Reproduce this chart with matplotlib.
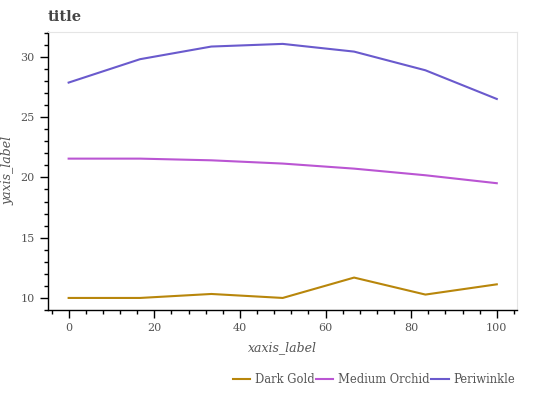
import numpy as np
import matplotlib
matplotlib.use("Agg")
import matplotlib.pyplot as plt
from matplotlib.ticker import MultipleLocator

# Data
x = [0, 16.67, 33.33, 50, 66.67, 83.33, 100]
dark_gold = [10.0, 10.0, 10.33, 10.0, 11.69, 10.28, 11.13]
medium_orchid = [21.56, 21.56, 21.42, 21.15, 20.73, 20.18, 19.52]
periwinkle = [27.87, 29.81, 30.86, 31.08, 30.44, 28.89, 26.51]

names = ["Dark Gold", "Medium Orchid", "Periwinkle"]
colors = ["#B8860B", "#BA55D3", "#6A5ACD"]

plt.rcParams['font.family'] = ['DejaVu Serif']

fig = plt.figure(figsize=(5.44, 4.0), dpi=100)
ax = fig.add_axes([0.0876, 0.225, 0.951 - 0.0876, 0.921 - 0.225])

for ys, name, c in zip([dark_gold, medium_orchid, periwinkle], names, colors):
    ax.plot(x, ys, color=c, lw=1.5, label=name)

ax.set_xlim(-4.9, 104.8)
ax.set_ylim(9.0, 32.1)

ax.xaxis.set_major_locator(MultipleLocator(20))
ax.xaxis.set_minor_locator(MultipleLocator(4))
ax.yaxis.set_major_locator(MultipleLocator(5))
ax.yaxis.set_minor_locator(MultipleLocator(1))

ax.tick_params(which='major', direction='out', length=6, width=1, color='black',
               labelsize=8, labelcolor='#555555')
ax.tick_params(which='minor', direction='out', length=3, width=1, color='black')

for side in ['top', 'right']:
    ax.spines[side].set_color('#e5e5e5')
for side in ['left', 'bottom']:
    ax.spines[side].set_color('black')
    ax.spines[side].set_linewidth(1)

ax.set_xlabel('xaxis_label', style='italic', fontsize=9, color='#555555', labelpad=6)
ax.set_ylabel('yaxis_label', style='italic', fontsize=9, color='#555555')

fig.text(0.088, 1 - 17 / 400, 'title', fontsize=10.5, fontweight='bold', color='#444444',
         va='center', ha='left')

ax.legend(loc='center right', bbox_to_anchor=(0.995, -0.248), ncol=3, frameon=False,
          fontsize=8.3, handlelength=1.5, handletextpad=0.4, columnspacing=0.15,
          labelcolor='#555555', borderaxespad=0, borderpad=0)

fig.savefig('out.png', dpi=100)
